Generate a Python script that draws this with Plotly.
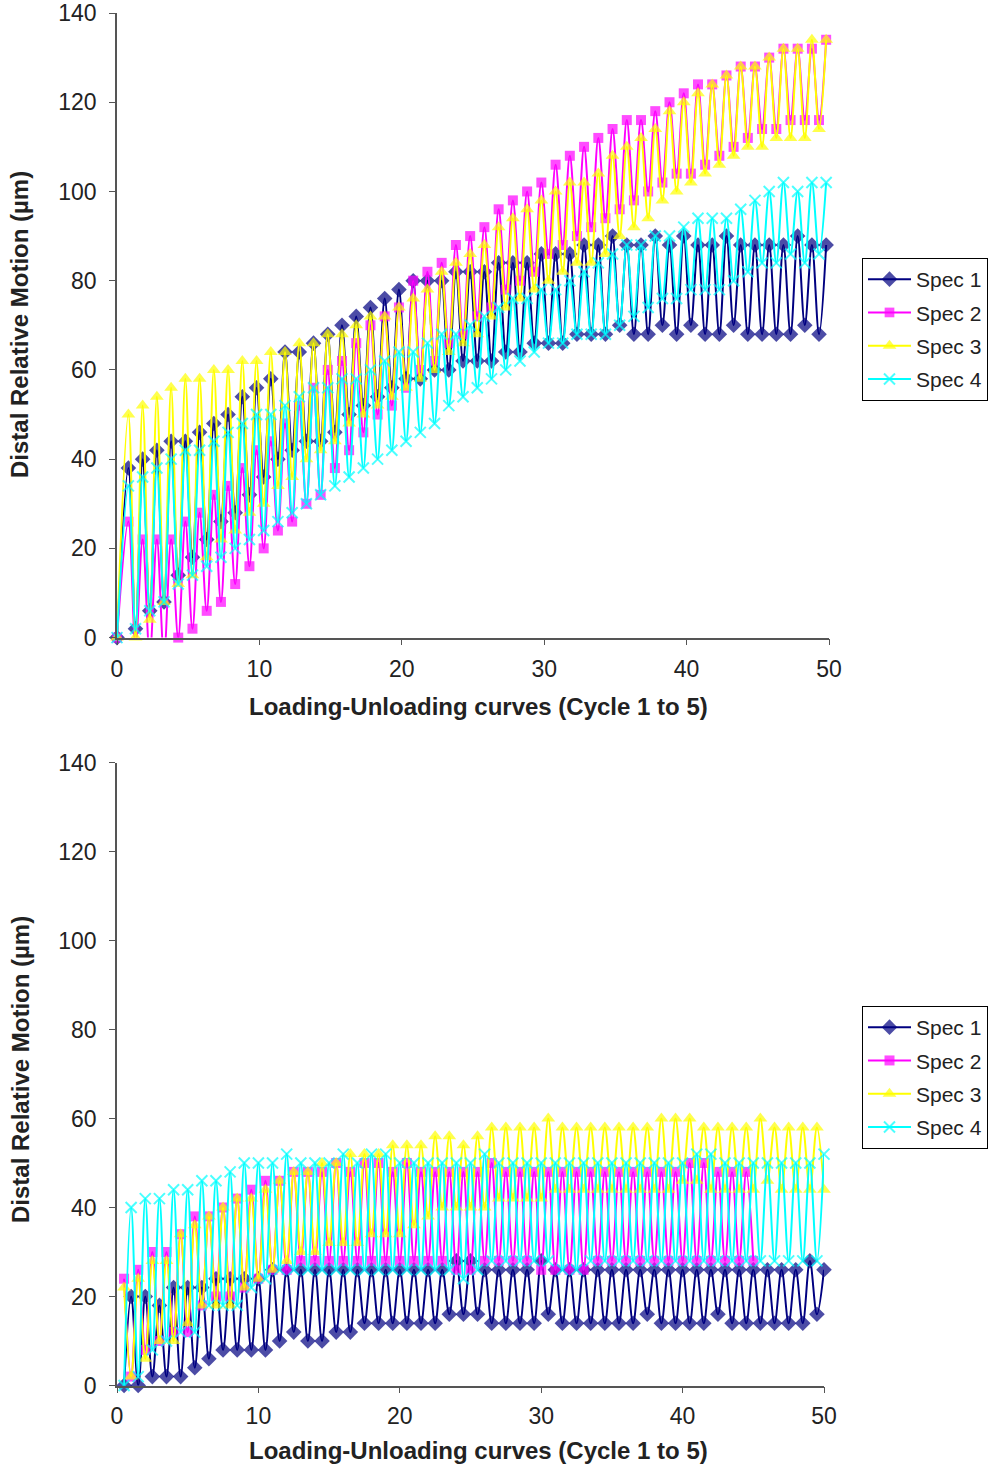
import plotly.graph_objects as go

W, H = 989, 1467


def fx(px):
    return px / W


def fy(py):
    return 1 - py / H


# ---------------- sample positions on the cycle axis ----------------
x_top = [0.0] + [round(0.8 + 0.5 * i, 2) for i in range(99)]
x_bot = [round(0.5 * (i + 1), 2) for i in range(100)]

# ---------------- TOP CHART (peaks / troughs, start value 0) ----------------
top_s1_hi = [38,40,42,44,44,46,48,50,54,56,58,64,64,66,68,70,72,74,76,78,80,80,80,82,82,
             82,84,84,84,86,86,86,88,88,90,88,88,90,88,90,88,88,90,88,88,88,88,90,88,88]
top_s1_lo = [2,6,8,14,18,22,26,28,32,36,40,42,44,44,46,50,52,54,56,58,58,60,60,62,62,
             62,64,64,66,66,66,68,68,68,70,68,68,70,68,70,68,68,70,68,68,68,68,70,68]

top_s2_hi = [26,22,22,22,26,28,32,34,38,42,44,48,52,56,60,62,66,70,72,74,80,82,84,88,90,
             92,96,98,100,102,106,108,110,112,114,116,116,118,120,122,124,124,126,128,128,130,132,132,132,134]
top_s2_lo = [-2,-4,-4,0,2,6,8,12,16,20,24,26,30,32,38,42,46,50,52,56,60,62,66,68,72,
             74,78,80,82,86,88,90,92,94,96,98,100,102,104,104,106,108,110,112,114,114,116,116,116]

top_s3_hi = [50,52,54,56,58,58,60,60,62,62,64,64,66,66,68,68,70,72,72,74,76,78,82,84,86,
             88,92,94,96,98,100,102,102,104,108,110,112,114,118,120,122,124,126,128,128,130,132,132,134,134]
top_s3_lo = [0,4,8,12,14,18,22,24,28,30,34,36,40,42,44,48,50,52,54,56,58,60,64,66,68,
             72,74,76,78,80,82,84,84,86,90,92,94,98,100,102,104,106,108,110,110,112,112,112,114]

top_s4_hi = [34,36,38,40,42,42,44,46,48,50,50,52,54,56,56,58,58,60,62,64,64,66,68,68,70,
             72,74,76,76,78,78,80,82,84,86,88,88,90,90,92,94,94,94,96,98,100,102,100,102,102]
top_s4_lo = [2,6,8,12,14,16,18,20,22,24,26,28,30,32,34,36,38,40,42,44,46,48,52,54,56,
             58,60,62,64,66,66,68,68,68,70,72,74,76,76,78,78,78,80,82,84,84,86,84,86]

# ---------------- BOTTOM CHART (full sequences) ----------------
bot_s1 = [0,20,0,20,2,18,2,22,2,22, 4,22,6,24,8,24,8,24,8,24,
          8,26,10,26,12,26,10,26,10,26, 12,26,12,26,14,26,14,26,14,26,
          14,26,14,26,14,26,16,28,16,28, 16,26,14,26,14,26,14,26,14,28,
          16,26,14,26,14,26,14,26,14,26, 14,26,14,26,16,26,14,26,14,26,
          14,26,14,26,16,26,14,26,14,26, 14,26,14,26,14,26,14,28,16,26]
bot_s2 = [24,2,26,8,30,10,30,12,34,12, 38,18,38,20,40,20,42,22,44,24,
          46,26,46,26,48,28,48,28,48,28, 50,28,48,28,50,28,50,28,48,28,
          50,28,48,28,48,28,48,26,48,26, 48,28,50,28,48,28,48,28,48,26,
          48,26,48,26,48,26,48,28,48,28, 48,28,48,28,48,28,48,28,48,28,
          50,28,50,28,48,28,48,28,48,28]
bot_s3 = [22,2,24,6,28,10,28,10,34,14, 36,18,38,18,40,18,42,22,42,24,
          44,26,46,28,48,30,48,30,50,32, 50,32,52,32,52,34,52,34,54,34,
          54,36,54,38,56,40,56,40,54,40, 56,40,58,42,58,42,58,42,58,42,
          60,44,58,44,58,44,58,44,58,44, 58,44,58,44,58,44,60,44,60,46,
          60,46,58,44,58,44,58,44,58,44, 60,46,58,44,58,44,58,44,58,44]
bot_s4 = [0,40,2,42,8,42,10,44,12,44, 12,46,18,46,18,48,18,50,22,50,
          24,50,26,52,26,50,26,50,26,50, 26,52,26,50,26,52,26,52,26,50,
          26,50,26,50,26,50,26,50,24,50, 26,52,28,50,28,50,28,50,28,50,
          28,50,26,50,26,50,28,50,28,50, 28,50,28,50,28,50,28,50,28,50,
          28,52,28,52,28,50,28,50,28,50, 28,50,28,50,28,50,28,50,28,52]

names = ["Spec 1", "Spec 2", "Spec 3", "Spec 4"]
colors = ["#000080", "#FF00FF", "#FFFF00", "#00FFFF"]
symbols = ["diamond", "square", "triangle-up", "x-thin"]
msizes = [12, 10, 12, 11]


def interleave(hi, lo, start=0):
    seq = [start]
    for i, h in enumerate(hi):
        seq.append(h)
        if i < len(lo):
            seq.append(lo[i])
    return seq


top_series = [interleave(top_s1_hi, top_s1_lo), interleave(top_s2_hi, top_s2_lo),
              interleave(top_s3_hi, top_s3_lo), interleave(top_s4_hi, top_s4_lo)]
bot_series = [bot_s1, bot_s2, bot_s3, bot_s4]

FONT = "Liberation Sans, Arial, sans-serif"
fig = go.Figure()


def add(xs, ys, i, xa, ya, leg):
    n = min(len(xs), len(ys))
    xs, ys = xs[:n], ys[:n]
    sizes = [msizes[i] if v >= 0 else 0 for v in ys]
    marker = dict(symbol=symbols[i], size=sizes, color=colors[i])
    if symbols[i] == "x-thin":
        marker["line"] = dict(color=colors[i], width=2)
    else:
        marker["line"] = dict(width=0)
    fig.add_trace(go.Scatter(
        x=xs, y=ys, name=names[i], mode="lines+markers",
        line=dict(color=colors[i], width=2, shape="spline", smoothing=1.0),
        marker=marker, xaxis=xa, yaxis=ya, legend=leg,
        legendgroup=leg + str(i), cliponaxis=False))


for i in range(4):
    add(x_top, top_series[i], i, "x", "y", "legend")
for i in range(4):
    add(x_bot, bot_series[i], i, "x2", "y2", "legend2")

axis_common = dict(showline=True, linecolor="#555", linewidth=1.5, ticks="outside",
                   ticklen=6, tickcolor="#555", showgrid=False, zeroline=False,
                   tickfont=dict(family=FONT, size=23, color="#222"))

fig.update_layout(
    width=W, height=H, autosize=False,
    margin=dict(l=0, r=0, t=0, b=0, autoexpand=False),
    paper_bgcolor="white", plot_bgcolor="white",
    xaxis=dict(domain=[fx(117), fx(829)], range=[0, 50], tickvals=[0, 10, 20, 30, 40, 50],
               anchor="y", ticklabelstandoff=4, **axis_common),
    yaxis=dict(domain=[fy(637.6), fy(13)], range=[0, 140], dtick=20,
               anchor="x", ticklabelstandoff=8, **axis_common),
    xaxis2=dict(domain=[fx(117), fx(824)], range=[0, 50], tickvals=[0, 10, 20, 30, 40, 50],
                anchor="y2", ticklabelstandoff=3, **axis_common),
    yaxis2=dict(domain=[fy(1385.5), fy(762.5)], range=[0, 140], dtick=20,
                anchor="x2", ticklabelstandoff=8, **axis_common),
    legend=dict(x=fx(862), y=fy(258), xanchor="left", yanchor="top", itemwidth=43,
                bordercolor="black", borderwidth=1, bgcolor="white", tracegroupgap=3,
                font=dict(family=FONT, size=21, color="#222")),
    legend2=dict(x=fx(862), y=fy(1006), xanchor="left", yanchor="top", itemwidth=43,
                 bordercolor="black", borderwidth=1, bgcolor="white", tracegroupgap=3,
                 font=dict(family=FONT, size=21, color="#222")),
    showlegend=True,
)

title_font = dict(family=FONT, size=24, color="#222")
ann = []
for yc in [325, 1070]:
    ann.append(dict(text="<b>Distal Relative Motion (µm)</b>", x=fx(20), y=fy(yc),
                    xref="paper", yref="paper", showarrow=False, textangle=-90,
                    font=title_font, xanchor="center", yanchor="middle"))
for yc in [706, 1450]:
    ann.append(dict(text="<b>Loading-Unloading curves (Cycle 1 to 5)</b>", x=fx(478), y=fy(yc),
                    xref="paper", yref="paper", showarrow=False,
                    font=title_font, xanchor="center", yanchor="middle"))
fig.update_layout(annotations=ann)

fig.write_html("out.html")
